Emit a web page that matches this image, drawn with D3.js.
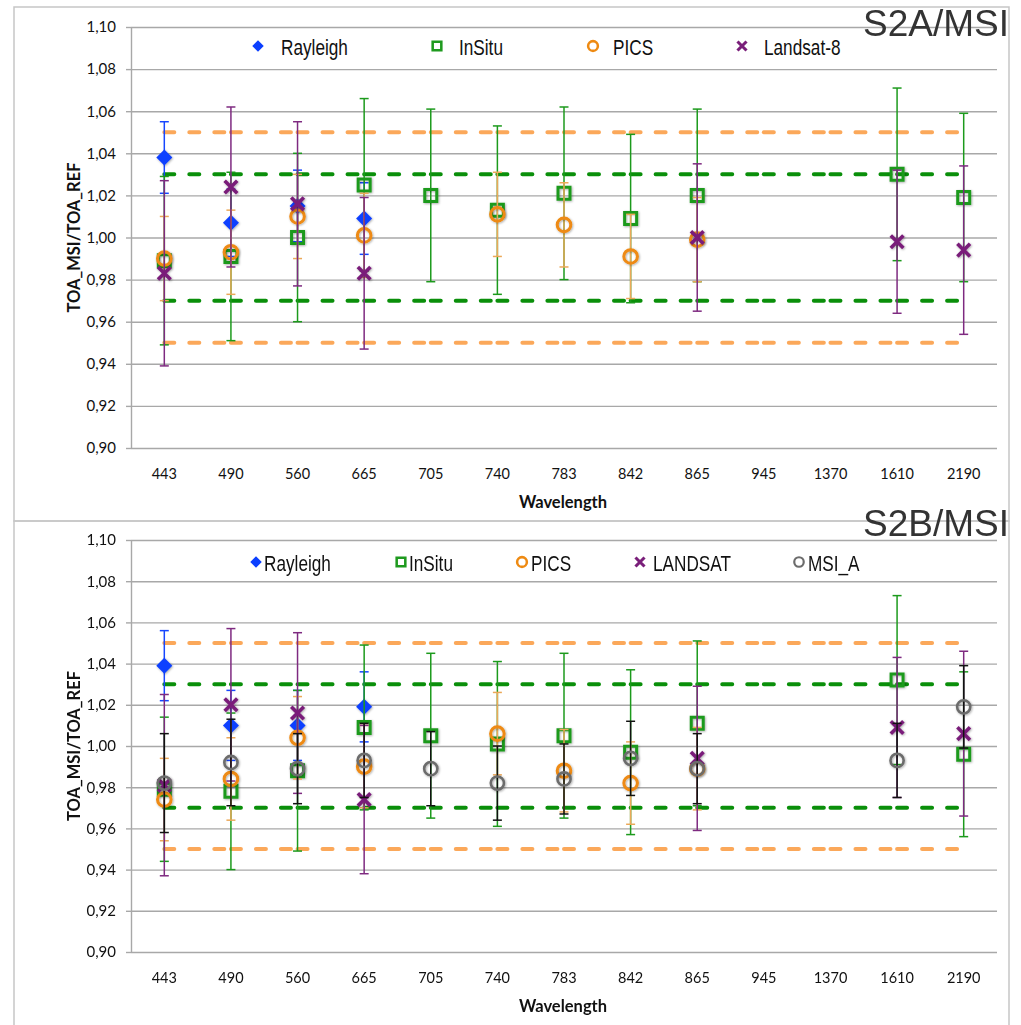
<!DOCTYPE html>
<html>
<head>
<meta charset="utf-8">
<script src="https://cdn.jsdelivr.net/npm/d3@7"></script>
<style>
  body { margin: 0; background: #fff; }
  svg { display: block; }
</style>
</head>
<body>
<svg id="chart" width="1021" height="1025"></svg>
<script>
// ---- categories and axis ticks ----
const wavelengths = ["443","490","560","665","705","740","783","842","865","945","1370","1610","2190"];
const yTicks = [0.90, 0.92, 0.94, 0.96, 0.98, 1.00, 1.02, 1.04, 1.06, 1.08, 1.10];
const outerLimits = [0.95, 1.05];
const innerLimits = [0.97, 1.03];

// ---- S2A/MSI : ratio values and ± uncertainty per wavelength ----
const s2aRayleigh    = [1.038, 1.007, 1.015, 1.009, null, null, null, null, null, null, null, null, null];
const s2aRayleighErr = [0.017, 0.016, 0.017, 0.017, null, null, null, null, null, null, null, null, null];
const s2aInSitu      = [0.989, 0.991, 1.000, 1.025, 1.020, 1.013, 1.021, 1.009, 1.020, null, null, 1.030, 1.019];
const s2aInSituErr   = [0.040, 0.040, 0.040, 0.041, 0.041, 0.040, 0.041, 0.040, 0.041, null, null, 0.041, 0.040];
const s2aPics        = [0.990, 0.993, 1.010, 1.001, null, 1.011, 1.006, 0.991, 0.999, null, null, null, null];
const s2aPicsErr     = [0.020, 0.020, 0.020, 0.020, null, 0.020, 0.020, 0.020, 0.020, null, null, null, null];
const s2aLandsat     = [0.983, 1.024, 1.016, 0.983, null, null, null, null, 1.000, null, null, 0.998, 0.994];
const s2aLandsatErr  = [0.044, 0.038, 0.039, 0.036, null, null, null, null, 0.035, null, null, 0.034, 0.040];

// ---- S2B/MSI ----
const s2bRayleigh    = [1.039, 1.010, 1.010, 1.019, null, null, null, null, null, null, null, null, null];
const s2bRayleighErr = [0.017, 0.017, 0.017, 0.017, null, null, null, null, null, null, null, null, null];
const s2bInSitu      = [0.979, 0.978, 0.988, 1.009, 1.005, 1.001, 1.005, 0.997, 1.011, null, null, 1.032, 0.996];
const s2bInSituErr   = [0.035, 0.038, 0.039, 0.040, 0.040, 0.040, 0.040, 0.040, 0.040, null, null, 0.041, 0.040];
const s2bPics        = [0.974, 0.984, 1.004, 0.990, null, 1.006, 0.988, 0.982, 0.989, null, null, null, null];
const s2bPicsErr     = [0.020, 0.020, 0.020, 0.020, null, 0.020, 0.020, 0.020, 0.020, null, null, null, null];
const s2bLandsat     = [0.981, 1.020, 1.016, 0.974, null, null, null, null, 0.994, null, null, 1.009, 1.006];
const s2bLandsatErr  = [0.044, 0.037, 0.039, 0.036, null, null, null, null, 0.035, null, null, 0.034, 0.040];
const s2bMsiA        = [0.982, 0.992, 0.989, 0.993, 0.989, 0.982, 0.984, 0.994, 0.989, null, null, 0.993, 1.019];
const s2bMsiAErr     = [0.024, 0.021, 0.017, 0.018, 0.018, 0.018, 0.017, 0.018, 0.017, null, null, 0.018, 0.020];

// ---- marker styles ----
const styles = {
  rayleigh: { shape: "diamond", color: "#0b3fff", err: "#1646ff" },
  insitu:   { shape: "square",  color: "#1f9a1f", err: "#1c9a1c" },
  pics:     { shape: "circle",  color: "#ee8a12", err: "#eba858" },
  landsat:  { shape: "cross",   color: "#7a1f7a", err: "#7e2a80" },
  msia:     { shape: "circle",  color: "#6c6c6c", err: "#111111", thin: true }
};

const panels = [
  {
    title: "S2A/MSI", top: 27, bottom: 448, frameTop: 7, frameBottom: 521,
    legendY: 46, titleBase: 36, xTitleBase: 508,
    series: [
      { key: "rayleigh", name: "Rayleigh",  v: s2aRayleigh, e: s2aRayleighErr, mx: 258, tx: 281 },
      { key: "insitu",   name: "InSitu",    v: s2aInSitu,   e: s2aInSituErr,   mx: 437, tx: 459 },
      { key: "pics",     name: "PICS",      v: s2aPics,     e: s2aPicsErr,     mx: 593, tx: 613 },
      { key: "landsat",  name: "Landsat-8", v: s2aLandsat,  e: s2aLandsatErr,  mx: 742, tx: 764 }
    ]
  },
  {
    title: "S2B/MSI", top: 540, bottom: 952, frameTop: 521, frameBottom: 1045,
    legendY: 562, titleBase: 536, xTitleBase: 1012,
    series: [
      { key: "rayleigh", name: "Rayleigh", v: s2bRayleigh, e: s2bRayleighErr, mx: 256, tx: 264 },
      { key: "insitu",   name: "InSitu",   v: s2bInSitu,   e: s2bInSituErr,   mx: 401, tx: 409 },
      { key: "pics",     name: "PICS",     v: s2bPics,     e: s2bPicsErr,     mx: 522, tx: 531 },
      { key: "landsat",  name: "LANDSAT",  v: s2bLandsat,  e: s2bLandsatErr,  mx: 640, tx: 653 },
      { key: "msia",     name: "MSI_A",    v: s2bMsiA,     e: s2bMsiAErr,     mx: 799, tx: 808 }
    ]
  }
];

const svg = d3.select("#chart");
const plotLeft = 131, plotRight = 997;
const tickFont = "Lato, 'Open Sans', sans-serif";
const legendFont = "'Liberation Sans', Arial, sans-serif";

// soft marker shadow
const defs = svg.append("defs");
const f = defs.append("filter").attr("id", "soft").attr("x", "-50%").attr("y", "-50%").attr("width", "200%").attr("height", "200%");
f.append("feDropShadow").attr("dx", 0.8).attr("dy", 0.8).attr("stdDeviation", 1.1)
  .attr("flood-color", "#000").attr("flood-opacity", 0.35);

function drawMarker(g, kind, cx, cy, k) {
  const st = styles[kind];
  const s = k || 1;
  if (st.shape === "diamond") {
    g.append("path").attr("d", d3.symbol(d3.symbolSquare, 128 * s * s)())
      .attr("transform", `translate(${cx},${cy}) rotate(45)`)
      .attr("fill", st.color);
  } else if (st.shape === "square") {
    g.append("path").attr("d", d3.symbol(d3.symbolSquare, 144 * s * s)())
      .attr("transform", `translate(${cx},${cy})`)
      .attr("fill", "none").attr("stroke", st.color).attr("stroke-width", 3 * Math.sqrt(s));
  } else if (st.shape === "circle") {
    const r = (st.thin ? 6.6 : 6.8) * s;
    g.append("circle").attr("cx", cx).attr("cy", cy).attr("r", r)
      .attr("fill", "none").attr("stroke", st.color).attr("stroke-width", (st.thin ? 2.6 : 3) * Math.sqrt(s));
  } else {
    const h = 6.3 * s;
    g.append("path").attr("d", `M${-h},${-h}L${h},${h}M${h},${-h}L${-h},${h}`)
      .attr("transform", `translate(${cx},${cy})`)
      .attr("fill", "none").attr("stroke", st.color).attr("stroke-width", 3.6 * Math.sqrt(s));
  }
}

panels.forEach(p => {
  const g = svg.append("g");
  const x = d3.scaleBand().domain(wavelengths).range([plotLeft, plotRight]);
  const y = d3.scaleLinear().domain([0.90, 1.10]).range([p.bottom, p.top]);
  const cx = c => x(c) + x.bandwidth() / 2;

  // chart frame
  g.append("rect").attr("x", 14).attr("y", p.frameTop)
    .attr("width", 995).attr("height", p.frameBottom - p.frameTop)
    .attr("fill", "none").attr("stroke", "#c6c6c6").attr("stroke-width", 1.5);

  // horizontal gridlines
  g.append("g").attr("transform", `translate(${plotLeft},0)`)
    .call(d3.axisLeft(y).tickValues(yTicks).tickSize(-(plotRight - plotLeft)).tickFormat(""))
    .call(a => a.select(".domain").remove())
    .call(a => a.selectAll("line").attr("stroke", "#a8a8a8").attr("stroke-width", 1.4));

  // y axis with comma decimals
  g.append("g").attr("transform", `translate(${plotLeft},0)`)
    .call(d3.axisLeft(y).tickValues(yTicks).tickSize(5).tickSizeOuter(0).tickPadding(10)
      .tickFormat(d => d3.format(".2f")(d).replace(".", ",")))
    .call(a => a.select(".domain").attr("stroke", "#a8a8a8").attr("stroke-width", 1.4))
    .call(a => a.selectAll("line").attr("stroke", "#a8a8a8").attr("stroke-width", 1.4))
    .call(a => a.selectAll("text").attr("font-family", tickFont).attr("font-size", 15).attr("fill", "#111"));

  // x axis labels
  g.append("g").attr("transform", `translate(0,${p.bottom})`)
    .call(d3.axisBottom(x).tickSize(0).tickPadding(21))
    .call(a => a.select(".domain").remove())
    .call(a => a.selectAll("text").attr("font-family", tickFont).attr("font-size", 14.5).attr("fill", "#111"));

  // axis titles
  g.append("text").attr("x", 563).attr("y", p.xTitleBase).attr("text-anchor", "middle")
    .attr("font-family", tickFont).attr("font-weight", "bold").attr("font-size", 16.5).attr("fill", "#111")
    .text("Wavelength");
  g.append("text").attr("transform", `translate(80,${(p.top + p.bottom) / 2}) rotate(-90)`)
    .attr("text-anchor", "middle")
    .attr("font-family", tickFont).attr("font-weight", "bold").attr("font-size", 16.5).attr("fill", "#111")
    .text("TOA_MSI/TOA_REF");

  // tolerance bands: dashed segments between neighbouring wavelengths
  const segs = d3.pairs(wavelengths);
  [[outerLimits, "#fba85a"], [innerLimits, "#0a8f0a"]].forEach(([lims, col]) => {
    lims.forEach(v => {
      g.append("g").selectAll("line").data(segs).join("line")
        .attr("x1", d => cx(d[0])).attr("x2", d => cx(d[1]))
        .attr("y1", y(v)).attr("y2", y(v))
        .attr("stroke", col).attr("stroke-width", 4)
        .attr("stroke-linecap", "round").attr("stroke-dasharray", "10,15");
    });
  });

  // series: error bars then markers, in legend order
  p.series.forEach(s => {
    const st = styles[s.key];
    const pts = wavelengths.map((w, i) => ({ w, v: s.v[i], e: s.e[i] })).filter(d => d.v != null);
    const sg = g.append("g");
    const eb = sg.append("g").attr("stroke", st.err).attr("stroke-width", 1.5);
    pts.forEach(d => {
      const X = cx(d.w), y0 = y(d.v - d.e), y1 = y(d.v + d.e);
      eb.append("line").attr("x1", X).attr("x2", X).attr("y1", y0).attr("y2", y1);
      eb.append("line").attr("x1", X - 4.5).attr("x2", X + 4.5).attr("y1", y0).attr("y2", y0);
      eb.append("line").attr("x1", X - 4.5).attr("x2", X + 4.5).attr("y1", y1).attr("y2", y1);
    });
    const mg = sg.append("g").attr("filter", "url(#soft)");
    pts.forEach(d => drawMarker(mg, s.key, cx(d.w), y(d.v)));

    // legend entry
    drawMarker(g, s.key, s.mx, p.legendY, 0.72);
    g.append("text").attr("transform", `translate(${s.tx},${p.legendY + 8.5}) scale(0.8,1)`)
      .attr("font-family", legendFont).attr("font-size", 21.5).attr("fill", "#111")
      .text(s.name);
  });

  // panel title
  g.append("text").attr("x", 1009).attr("y", p.titleBase).attr("text-anchor", "end")
    .attr("font-family", legendFont).attr("font-size", 37).attr("fill", "#333")
    .text(p.title);
});
</script>
</body>
</html>
